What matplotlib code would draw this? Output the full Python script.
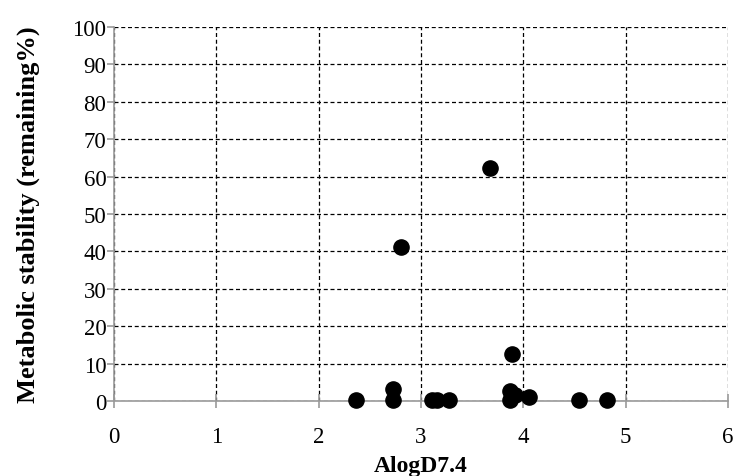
import matplotlib
matplotlib.use("Agg")
import matplotlib.pyplot as plt

x_alogd = [2.36, 2.73, 2.73, 2.80, 3.11, 3.16, 3.27, 3.67, 3.87, 3.87, 3.89, 3.92, 4.06, 4.54, 4.82]
y_stability = [0.4, 0.4, 3.3, 41.3, 0.4, 0.4, 0.4, 62.4, 0.3, 2.6, 12.6, 1.5, 1.2, 0.4, 0.4]
x_ticks = [0, 1, 2, 3, 4, 5, 6]
y_ticks = [0, 10, 20, 30, 40, 50, 60, 70, 80, 90, 100]

plt.rcParams['font.family'] = ['Liberation Serif', 'DejaVu Serif']

fig = plt.figure(figsize=(7.37, 4.77), dpi=100)
ax = fig.add_axes([114/737, 75/477, 614/737, 374/477])

ax.scatter(x_alogd, y_stability, s=120, color='black', zorder=3, clip_on=False)

ax.set_xlim(0, 6)
ax.set_ylim(0, 100)
ax.set_xticks(x_ticks)
ax.set_yticks(y_ticks)
ax.grid(True, linestyle=(0, (3.2, 2.2)), color='black', linewidth=0.9)
ax.set_axisbelow(True)

for s in ['top', 'right']:
    ax.spines[s].set_visible(False)
for s in ['left', 'bottom']:
    ax.spines[s].set_color('#9a9a9a')
    ax.spines[s].set_linewidth(1.2)

ax.tick_params(axis='x', direction='inout', length=10, color='#9a9a9a', width=1.2, labelsize=16.5, pad=13)
ax.tick_params(axis='y', direction='out', length=5, color='#9a9a9a', width=1.2, labelsize=16.5, pad=0.5)

ax.set_xlabel('AlogD7.4', fontsize=17, fontweight='bold', labelpad=6)
ax.set_ylabel('Metabolic stability (remaining%)', fontsize=19, fontweight='bold', labelpad=23)

fig.savefig('out.png', dpi=100)
